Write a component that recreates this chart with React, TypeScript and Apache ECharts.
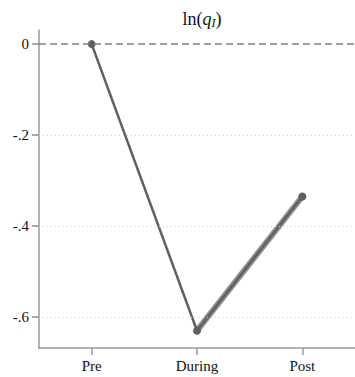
import React, { useEffect, useRef } from "react";
import * as echarts from "echarts";

const categories = ["Pre", "During", "Post"];
const values = [0, -0.63, -0.335];
const bandValues = [null, -0.63, -0.335];
const gridTicks = [-0.2, -0.4, -0.6];
const yMin = -0.668;
const yMax = 0.031;
const tickMin = -0.6;
const tickMax = 0;

export default function App() {
  const ref = useRef<HTMLDivElement>(null);
  useEffect(() => {
    if (!ref.current) return;
    const chart = echarts.init(ref.current, null, { renderer: "svg" });
    const font = "Liberation Serif";
    const fmt = (v: number) => {
      if (Math.abs(v) < 1e-9) return "0";
      return (v < 0 ? "-" : "") + String(Math.abs(v).toFixed(1)).replace(/^0/, "");
    };
    const top = 30;
    const bottom = 29;
    const h = 377 - top - bottom;
    const tTop = top + ((yMax - tickMax) / (yMax - yMin)) * h;
    const tBottom = bottom + ((tickMin - yMin) / (yMax - yMin)) * h;
    chart.setOption({
      animation: false,
      backgroundColor: "#ffffff",
      title: {
        text: "{n|ln(}{i|q}{s|I}{n|)}",
        left: 197,
        textAlign: "center",
        top: 3,
        textStyle: {
          fontWeight: "normal",
          rich: {
            n: { fontFamily: font, fontSize: 18, fontWeight: "normal", color: "#111" },
            i: { fontFamily: font, fontSize: 18, fontStyle: "italic", fontWeight: "normal", color: "#111" },
            s: { fontFamily: font, fontSize: 12, fontStyle: "italic", fontWeight: "normal", color: "#111", verticalAlign: "bottom", padding: [9, 0, 0, 0] },
          },
        },
      },
      grid: [
        { left: 39, right: 0, top, bottom },
        { left: 39, right: 0, top: tTop, bottom: tBottom },
      ],
      xAxis: [
        {
          type: "category",
          data: categories,
          boundaryGap: true,
          axisLine: { show: true, onZero: false, lineStyle: { color: "#999", width: 1.5 } },
          axisTick: { show: true, alignWithLabel: true, interval: 0, length: 7, lineStyle: { color: "#999", width: 1.5 } },
          axisLabel: { show: true, interval: 0, fontFamily: font, fontSize: 15, color: "#111", margin: 10 },
        },
        { type: "category", gridIndex: 1, data: categories, show: false },
      ],
      yAxis: [
        {
          type: "value",
          min: yMin,
          max: yMax,
          axisLine: { show: true, onZero: false, lineStyle: { color: "#999", width: 1.5 } },
          axisTick: { show: false },
          axisLabel: { show: false },
          splitLine: { show: false },
        },
        {
          type: "value",
          gridIndex: 1,
          min: tickMin,
          max: tickMax,
          interval: 0.2,
          z: 5,
          axisLine: { show: true, onZero: false, lineStyle: { color: "rgba(0,0,0,0)", width: 1 } },
          axisTick: { show: true, inside: false, length: 7, lineStyle: { color: "#8c8c8c", width: 1.5 } },
          axisLabel: { fontFamily: font, fontSize: 15, color: "#111", margin: 10, formatter: fmt },
          splitLine: { show: false },
        },
      ],
      series: [
        {
          type: "line",
          data: bandValues,
          symbol: "none",
          lineStyle: { color: "#8f8f8f", width: 6 },
          z: 2,
          markLine: {
            silent: true,
            symbol: "none",
            label: { show: false },
            data: gridTicks.map((v) => ({ yAxis: v })),
            lineStyle: { color: "#d0d0d0", type: [1, 3], width: 1 },
          },
        },
        {
          type: "line",
          data: values,
          symbol: "circle",
          symbolSize: 8,
          itemStyle: { color: "#606060" },
          lineStyle: { color: "#606060", width: 2.5 },
          z: 3,
          markLine: {
            silent: true,
            symbol: "none",
            label: { show: false },
            data: [{ yAxis: 0 }],
            lineStyle: { color: "#808080", type: [7, 4], width: 1.5 },
          },
        },
      ],
    });
    return () => chart.dispose();
  }, []);
  return <div ref={ref} style={{ width: 355, height: 377, position: "absolute", left: 0, top: 0 }} />;
}
